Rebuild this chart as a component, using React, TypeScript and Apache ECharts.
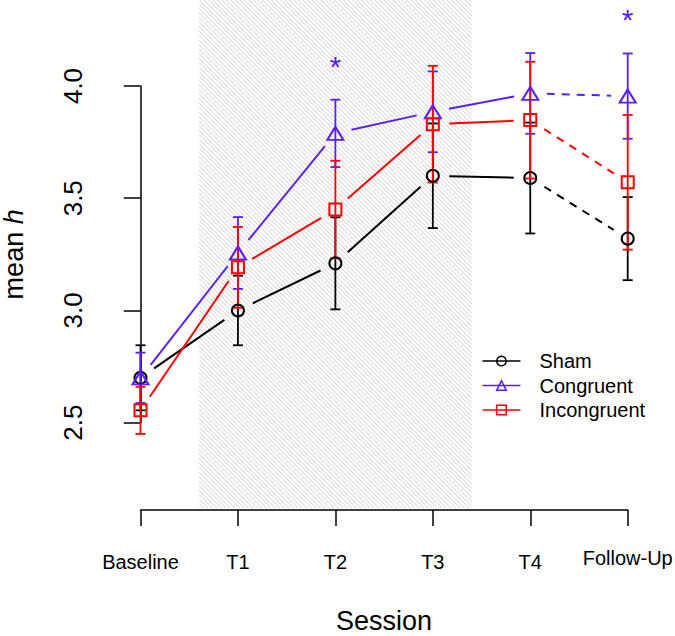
import React, { useEffect, useRef } from 'react';
import * as echarts from 'echarts';

const categories = ['Baseline', 'T1', 'T2', 'T3', 'T4', 'Follow-Up'];
const groupNames = ['Sham', 'Congruent', 'Incongruent'];
const shamMean = [2.70, 3.00, 3.21, 3.60, 3.59, 3.32];
const shamErr = [0.145, 0.155, 0.205, 0.233, 0.247, 0.185];
const congMean = [2.70, 3.256, 3.789, 3.885, 3.967, 3.955];
const congErr = [0.112, 0.16, 0.15, 0.18, 0.18, 0.19];
const incongMean = [2.555, 3.192, 3.45, 3.83, 3.848, 3.571];
const incongErr = [0.105, 0.18, 0.217, 0.26, 0.26, 0.30];
const starSession = [2, 5];
const starValue = [4.10, 4.31];
const shadeSession = [0.6, 3.4];
const shadeValue = [2.12, 4.39];
const dashedFrom = 4;

const FONT = '"Liberation Sans", Arial, Helvetica, sans-serif';
const BLACK = '#000000';
const BLUE = '#5a1eff';
const RED = '#ff0000';

export default function App() {
  const ref = useRef<HTMLDivElement>(null);

  useEffect(() => {
    if (!ref.current) return;
    const chart = echarts.init(ref.current, undefined, { renderer: 'svg' });

    const groups = [
      { name: groupNames[0], mean: shamMean, err: shamErr, color: BLACK, symbol: 'circle', size: 12 },
      { name: groupNames[1], mean: congMean, err: congErr, color: BLUE, symbol: 'triangle', size: [16, 13] },
      { name: groupNames[2], mean: incongMean, err: incongErr, color: RED, symbol: 'rect', size: 12 },
    ];

    const series: any[] = [];

    series.push({
      type: 'custom',
      name: 'shade',
      xAxisIndex: 0,
      yAxisIndex: 0,
      silent: true,
      clip: false,
      z: 1,
      data: [[shadeSession[0], shadeValue[0], shadeSession[1], shadeValue[1]]],
      renderItem: (_p: any, api: any) => {
        const a = api.coord([api.value(0), api.value(1)]);
        const b = api.coord([api.value(2), api.value(3)]);
        const x0 = a[0], x1 = b[0], y0 = b[1], y1 = a[1];
        const children: any[] = [];
        const step = 4.5;
        for (let c = x0 - y1; c <= x1 - y0; c += step) {
          const xa = Math.max(x0, c + y0);
          const xb = Math.min(x1, c + y1);
          if (xb - xa <= 0.5) continue;
          children.push({
            type: 'line',
            shape: { x1: xa, y1: xa - c, x2: xb, y2: xb - c },
            style: { stroke: '#d2d2d2', lineWidth: 1 },
          });
        }
        return { type: 'group', children };
      },
    });

    groups.forEach((g) => {
      series.push({
        type: 'custom',
        name: g.name + '-lines',
        xAxisIndex: 0,
        yAxisIndex: 0,
        silent: true,
        clip: false,
        z: 2,
        data: g.mean.slice(0, -1).map((v, i) => [i, v, i + 1, g.mean[i + 1]]),
        renderItem: (_p: any, api: any) => {
          const p0 = api.coord([api.value(0), api.value(1)]);
          const p1 = api.coord([api.value(2), api.value(3)]);
          const dx = p1[0] - p0[0];
          const dy = p1[1] - p0[1];
          const L = Math.hypot(dx, dy);
          const gap = 16.5;
          if (L <= 2 * gap) return null;
          const ux = dx / L, uy = dy / L;
          return {
            type: 'line',
            shape: { x1: p0[0] + ux * gap, y1: p0[1] + uy * gap, x2: p1[0] - ux * gap, y2: p1[1] - uy * gap },
            style: { stroke: g.color, lineWidth: 2, lineDash: api.value(0) >= dashedFrom ? [8, 7] : null },
          };
        },
      });
      series.push({
        type: 'custom',
        name: g.name + '-err',
        xAxisIndex: 0,
        yAxisIndex: 0,
        silent: true,
        clip: false,
        z: 2,
        data: g.mean.map((m, i) => [i, m - g.err[i], m + g.err[i]]),
        renderItem: (_p: any, api: any) => {
          const lo = api.coord([api.value(0), api.value(1)]);
          const hi = api.coord([api.value(0), api.value(2)]);
          const w = 5;
          const st = { stroke: g.color, lineWidth: 1.8 };
          return {
            type: 'group',
            children: [
              { type: 'line', shape: { x1: lo[0], y1: lo[1], x2: hi[0], y2: hi[1] }, style: st },
              { type: 'line', shape: { x1: lo[0] - w, y1: lo[1], x2: lo[0] + w, y2: lo[1] }, style: st },
              { type: 'line', shape: { x1: hi[0] - w, y1: hi[1], x2: hi[0] + w, y2: hi[1] }, style: st },
            ],
          };
        },
      });
      series.push({
        type: 'line',
        name: g.name,
        xAxisIndex: 0,
        yAxisIndex: 0,
        silent: true,
        clip: false,
        z: 3,
        data: g.mean.map((m, i) => [i, m]),
        symbol: g.symbol,
        symbolSize: g.size,
        showSymbol: true,
        lineStyle: { color: g.color, opacity: 0, width: 0 },
        itemStyle: { color: 'rgba(0,0,0,0)', borderColor: g.color, borderWidth: 2 },
      });
    });

    series.push({
      type: 'custom',
      name: 'stars',
      xAxisIndex: 0,
      yAxisIndex: 0,
      silent: true,
      clip: false,
      z: 4,
      data: starSession.map((s, i) => [s, starValue[i]]),
      renderItem: (_p: any, api: any) => {
        const c = api.coord([api.value(0), api.value(1)]);
        return {
          type: 'text',
          x: c[0],
          y: c[1] + 3,
          style: { text: '*', fontSize: 30, fill: BLUE, align: 'center', verticalAlign: 'middle', fontFamily: FONT },
        };
      },
    });

    const option: any = {
      animation: false,
      backgroundColor: '#ffffff',
      grid: [
        { left: 140.5, width: 487.2, top: 86, height: 336.7, containLabel: false, outerBoundsMode: 'none' },
        { left: 140.5, width: 487.2, top: 509, height: 1, containLabel: false, outerBoundsMode: 'none' },
      ],
      xAxis: [
        { type: 'value', gridIndex: 0, min: 0, max: 5, show: false },
        {
          type: 'value',
          gridIndex: 1,
          min: 0,
          max: 5,
          interval: 1,
          position: 'bottom',
          axisLine: { show: true, lineStyle: { color: BLACK, width: 1.5 } },
          axisTick: { show: true, inside: false, length: 16, lineStyle: { color: BLACK, width: 1.5 } },
          splitLine: { show: false },
          axisLabel: {
            margin: 38,
            color: BLACK,
            fontFamily: FONT,
            fontSize: 20,
            showMinLabel: true,
            showMaxLabel: true,
            hideOverlap: false,
            formatter: (val: number) => {
              const i = Math.round(val);
              const name = categories[i] ?? '';
              return i === categories.length - 1 ? `{fu|${name}}` : `{n|${name}}`;
            },
            rich: {
              n: { fontSize: 20, lineHeight: 28, fontFamily: FONT, color: BLACK },
              fu: { fontSize: 20, lineHeight: 20, fontFamily: FONT, color: BLACK },
            },
          },
          name: 'Session',
          nameLocation: 'middle',
          nameGap: 97,
          nameTextStyle: { fontSize: 27, lineHeight: 27, color: BLACK, fontFamily: FONT },
        },
      ],
      yAxis: [
        {
          type: 'value',
          gridIndex: 0,
          min: 2.5,
          max: 4.0,
          interval: 0.5,
          offset: 19.8,
          axisLine: { show: true, lineStyle: { color: BLACK, width: 1.5 } },
          axisTick: { show: true, inside: false, length: 16.7, lineStyle: { color: BLACK, width: 1.5 } },
          splitLine: { show: false },
          axisLabel: {
            rotate: 90,
            margin: 35,
            fontSize: 26,
            color: BLACK,
            fontFamily: FONT,
            formatter: (v: number) => v.toFixed(1),
          },
          name: '{a|mean }{b|h}',
          nameLocation: 'middle',
          nameRotate: 90,
          nameGap: 93,
          nameTextStyle: {
            fontSize: 27,
            color: BLACK,
            fontFamily: FONT,
            rich: {
              a: { fontSize: 27, color: BLACK, fontFamily: FONT },
              b: { fontSize: 27, color: BLACK, fontFamily: FONT, fontStyle: 'italic' },
            },
          },
        },
        { type: 'value', gridIndex: 1, show: false, min: 0, max: 1 },
      ],
      legend: {
        orient: 'vertical',
        left: 481.7,
        top: 351,
        padding: 0,
        itemGap: 4.5,
        itemWidth: 38,
        itemHeight: 12,
        selectedMode: false,
        textStyle: { fontSize: 20, color: BLACK, fontFamily: FONT, lineHeight: 20, padding: [0, 0, 0, 14] },
        lineStyle: { width: 1.5, opacity: 1 },
        data: groups.map((g) => ({
          name: g.name,
          lineStyle: { color: g.color, width: 1.5, opacity: 1 },
          itemStyle: { color: 'rgba(0,0,0,0)', borderColor: g.color, borderWidth: 1.5 },
        })),
      },
      series,
    };

    chart.setOption(option);
    return () => chart.dispose();
  }, []);

  return (
    <div
      ref={ref}
      style={{ position: 'absolute', left: 0, top: 0, width: 675, height: 636, background: '#fff' }}
    />
  );
}
